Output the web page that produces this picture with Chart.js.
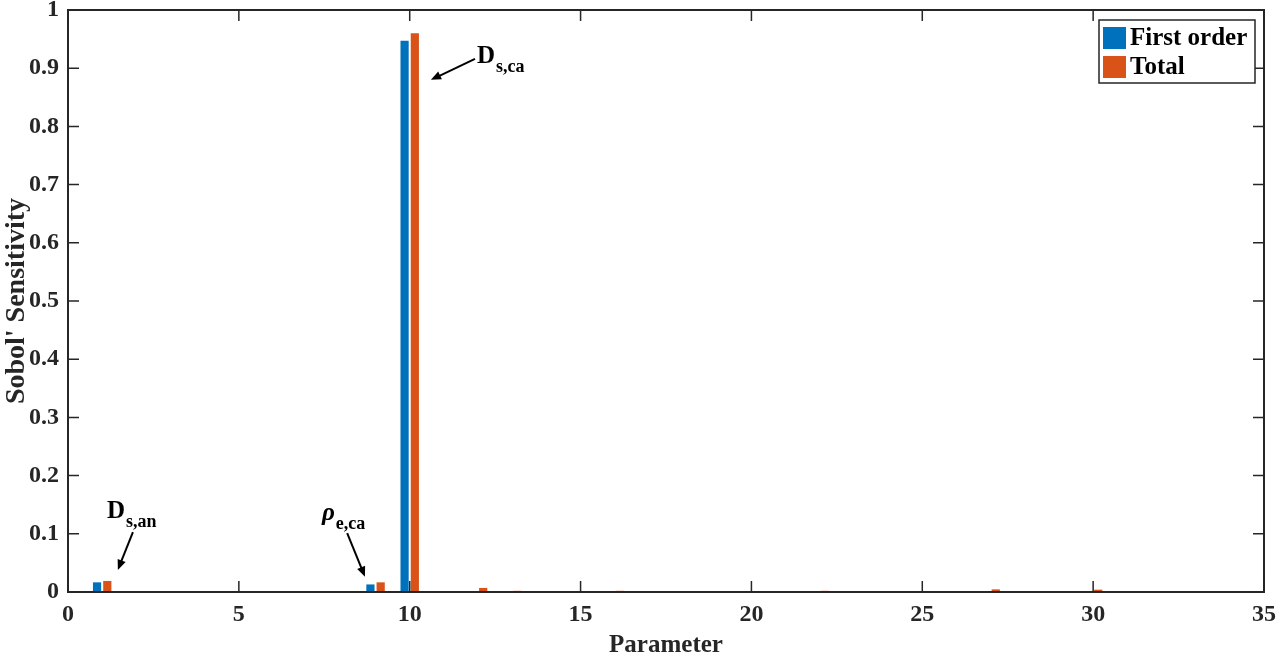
<!DOCTYPE html>
<html>
<head>
<meta charset="utf-8">
<script src="https://cdn.jsdelivr.net/npm/chart.js@4.4.1/dist/chart.umd.min.js"></script>
<style>
  html, body { margin: 0; padding: 0; background: #fff; }
  #wrap { width: 1280px; height: 656px; }
</style>
</head>
<body>
<div id="wrap"><canvas id="sobol"></canvas></div>
<script>
const params = [1,2,3,4,5,6,7,8,9,10,11,12,13,14,15,16,17,18,19,20,21,22,23,24,25,26,27,28,29,30,31,32,33,34];
const firstOrder = [0.0166,0,0,0,0,0,0,0,0.013,0.947,0,0,0,0,0,0,0,0,0,0,0,0,0,0,0,0,0,0,0,0,0,0,0,0];
const totalOrder = [0.019,0,0,0.001,0.001,0,0.001,0,0.0166,0.960,0,0.007,0.002,0,0,0.002,0.001,0,0.001,0,0,0.002,0.001,0.001,0,0.001,0.0045,0,0,0.004,0,0,0,0];
const seriesNames = ["First order", "Total"];
const colors = ["#0072BD", "#D95319"];

const xTicks = [0,5,10,15,20,25,30,35];
const yTicks = [0,0.1,0.2,0.3,0.4,0.5,0.6,0.7,0.8,0.9,1];

// annotation labels, in data units
const notes = [
  { main: "D", sub: "s,an", italic: false, at: [1.14, 0.127], from: [1.90, 0.103], to: [1.46, 0.038] },
  { main: "\u03C1", sub: "e,ca", italic: true, at: [7.43, 0.124], from: [8.17, 0.101], to: [8.69, 0.026] },
  { main: "D", sub: "s,ca", italic: false, at: [11.97, 0.909], from: [11.91, 0.916], to: [10.62, 0.880] }
];

const axisColor = "#262626";
const serif = "'Liberation Serif', 'Times New Roman', serif";

const toPoints = (vals) => params.map((p, i) => ({ x: p, y: vals[i] }));

const arrow = (ctx, x1, y1, x2, y2) => {
  const a = Math.atan2(y2 - y1, x2 - x1);
  const h = 11;
  ctx.beginPath();
  ctx.moveTo(x1, y1);
  ctx.lineTo(x2 - Math.cos(a) * h * 0.7, y2 - Math.sin(a) * h * 0.7);
  ctx.stroke();
  ctx.beginPath();
  ctx.moveTo(x2, y2);
  ctx.lineTo(x2 - h * Math.cos(a - 0.4), y2 - h * Math.sin(a - 0.4));
  ctx.lineTo(x2 - h * Math.cos(a + 0.4), y2 - h * Math.sin(a + 0.4));
  ctx.closePath();
  ctx.fill();
};

const framePlugin = {
  id: "frame",
  afterDatasetsDraw(chart) {
    const { ctx, chartArea: a, scales } = chart;
    const xs = scales.x, ys = scales.y;
    ctx.save();
    ctx.strokeStyle = axisColor;
    ctx.lineWidth = 2;
    ctx.strokeRect(a.left, a.top, a.right - a.left, a.bottom - a.top);
    ctx.lineWidth = 1.5;
    ctx.beginPath();
    xTicks.forEach(v => {
      const px = xs.getPixelForValue(v);
      ctx.moveTo(px, a.bottom); ctx.lineTo(px, a.bottom - 11);
      ctx.moveTo(px, a.top); ctx.lineTo(px, a.top + 11);
    });
    yTicks.forEach(v => {
      const py = ys.getPixelForValue(v);
      ctx.moveTo(a.left, py); ctx.lineTo(a.left + 11, py);
      ctx.moveTo(a.right, py); ctx.lineTo(a.right - 11, py);
    });
    ctx.stroke();

    // annotations
    ctx.fillStyle = "#000";
    ctx.strokeStyle = "#000";
    ctx.lineWidth = 2;
    notes.forEach(n => {
      const x = xs.getPixelForValue(n.at[0]), y = ys.getPixelForValue(n.at[1]);
      ctx.font = (n.italic ? "italic " : "") + "bold 25px " + serif;
      ctx.textAlign = "left";
      ctx.textBaseline = "alphabetic";
      ctx.fillText(n.main, x, y);
      const w = ctx.measureText(n.main).width;
      ctx.font = "bold 18px " + serif;
      ctx.fillText(n.sub, x + w + 1, y + 9);
      arrow(ctx, xs.getPixelForValue(n.from[0]), ys.getPixelForValue(n.from[1]),
                 xs.getPixelForValue(n.to[0]), ys.getPixelForValue(n.to[1]));
    });

    // legend box, top right inside the axes
    const bw = 156, bh = 63;
    const bx = a.right - 9 - bw, by = a.top + 10;
    ctx.fillStyle = "#fff";
    ctx.fillRect(bx, by, bw, bh);
    ctx.strokeStyle = axisColor;
    ctx.lineWidth = 1.5;
    ctx.strokeRect(bx, by, bw, bh);
    ctx.font = "bold 25px " + serif;
    ctx.textBaseline = "middle";
    chart.data.datasets.forEach((ds, i) => {
      const cy = by + 18 + i * 29;
      ctx.fillStyle = ds.backgroundColor;
      ctx.fillRect(bx + 4, cy - 11, 23, 22);
      ctx.fillStyle = "#000";
      ctx.fillText(ds.label, bx + 31, cy + 1);
    });
    ctx.restore();
  }
};

const fmt = v => String(Math.round(v * 10) / 10);

new Chart(document.querySelector("#sobol"), {
  type: "bar",
  data: {
    datasets: [
      { label: seriesNames[0], data: toPoints(firstOrder), backgroundColor: colors[0] },
      { label: seriesNames[1], data: toPoints(totalOrder), backgroundColor: colors[1] }
    ]
  },
  options: {
    responsive: true,
    maintainAspectRatio: false,
    animation: false,
    categoryPercentage: 0.6,
    barPercentage: 0.8,
    layout: { padding: { top: 10, right: 16, left: 0, bottom: 0 } },
    plugins: { legend: { display: false }, tooltip: { enabled: false } },
    scales: {
      x: {
        type: "linear",
        min: 0, max: 35,
        offset: false,
        grid: { display: false, drawTicks: false, offset: false },
        border: { display: false },
        ticks: { stepSize: 5, padding: 8, color: axisColor, maxRotation: 0, font: { family: serif, size: 24, weight: "bold" } },
        title: { display: true, text: "Parameter", color: axisColor, padding: { top: 0, bottom: -5 }, font: { family: serif, size: 25, weight: "bold" } },
        afterFit: s => { s.height = 64; s.paddingLeft = 0; s.paddingRight = 0; }
      },
      y: {
        min: 0, max: 1,
        grid: { display: false, drawTicks: false },
        border: { display: false },
        ticks: { stepSize: 0.1, padding: 9, color: axisColor, callback: fmt, font: { family: serif, size: 24, weight: "bold" } },
        title: { display: true, text: "Sobol' Sensitivity", color: axisColor, padding: 0, font: { family: serif, size: 28, weight: "bold" } },
        afterFit: s => { s.width = 68; s.paddingTop = 0; s.paddingBottom = 0; }
      }
    }
  },
  plugins: [framePlugin]
});
</script>
</body>
</html>
